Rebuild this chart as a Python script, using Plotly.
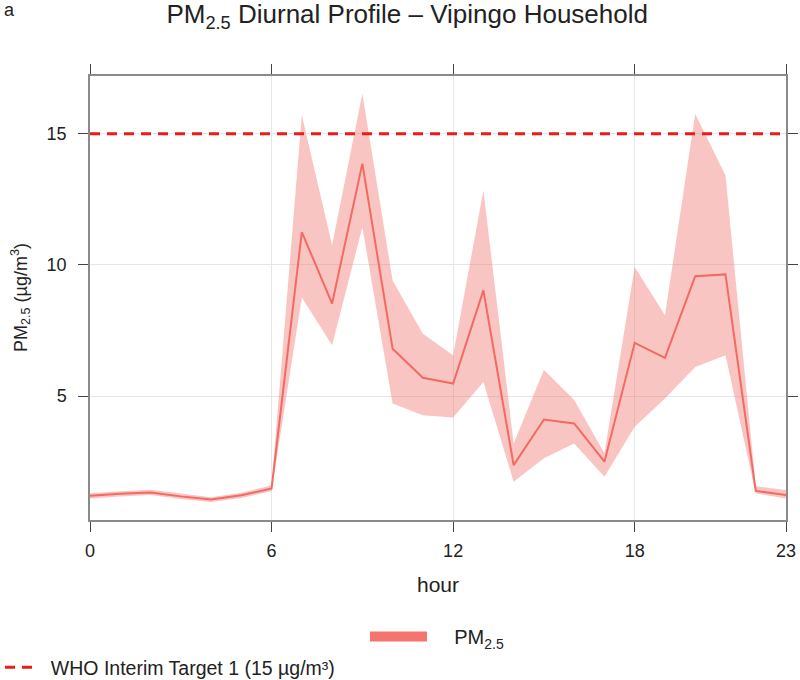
import plotly.graph_objects as go

# ---- data ----
hours = list(range(24))
pm25_mean = [1.20, 1.28, 1.33, 1.18, 1.06, 1.22, 1.48, 11.25, 8.53, 13.86, 6.81, 5.70,
             5.48, 9.03, 2.37, 4.11, 3.96, 2.50, 7.03, 6.46, 9.57, 9.64, 1.39, 1.23]
pm25_upper = [1.30, 1.38, 1.43, 1.28, 1.15, 1.32, 1.60, 15.70, 10.75, 16.52, 9.41, 7.38,
              6.56, 12.84, 3.20, 6.01, 4.85, 2.82, 9.92, 8.08, 15.76, 13.41, 1.57, 1.42]
pm25_lower = [1.10, 1.18, 1.23, 1.08, 0.97, 1.12, 1.38, 8.76, 6.94, 11.44, 4.72, 4.27,
              4.19, 5.54, 1.74, 2.63, 3.20, 1.93, 3.83, 4.91, 6.11, 6.56, 1.29, 1.10]
who_target = 15
x_ticks = [0, 6, 12, 18, 23]
y_ticks = [5, 10, 15]

LINE_COL = "#F26A62"
BAND_COL = "rgba(240, 110, 105, 0.40)"
PATCH_COL = "#F4756E"
WHO_COL = "#EE1A1A"
FONT = "Liberation Sans, Arial, sans-serif"
NB = "\u00a0"

fig = go.Figure()

fig.add_trace(go.Scatter(x=hours, y=pm25_lower, mode="lines", line=dict(width=0, color=BAND_COL),
                         showlegend=False, hoverinfo="skip"))
fig.add_trace(go.Scatter(x=hours, y=pm25_upper, mode="lines", line=dict(width=0, color=BAND_COL),
                         fill="tonexty", fillcolor=BAND_COL, showlegend=False, hoverinfo="skip"))
fig.add_trace(go.Scatter(x=hours, y=pm25_mean, mode="lines", line=dict(width=2, color=LINE_COL),
                         showlegend=False, name="PM2.5"))
fig.add_trace(go.Scatter(x=hours, y=[who_target] * len(hours), mode="lines",
                         line=dict(width=3, color=WHO_COL, dash="10px,7px"),
                         name=NB * 2 + "WHO Interim Target 1 (15 µg/m³)", legend="legend2"))
# legend key for the PM2.5 series
fig.add_trace(go.Scatter(x=[None], y=[None], mode="lines", line=dict(width=22, color=PATCH_COL),
                         name=NB * 4 + "PM<sub>2.5</sub>", legend="legend"))

fig.update_layout(
    width=800, height=680,
    margin=dict(l=90, r=14, t=76, b=160, autoexpand=False),
    paper_bgcolor="white", plot_bgcolor="white",
    font=dict(family=FONT, color="#222222", size=18),
    title=dict(text="PM<sub>2.5</sub> Diurnal Profile – Vipingo Household",
               xref="container", yref="container", x=0.509, y=1 - 14 / 680,
               xanchor="center", yanchor="middle",
               font=dict(size=26, family=FONT, color="#222222")),
    xaxis=dict(range=[0, 23], tickvals=x_ticks, ticks="outside", ticklen=10, tickwidth=1,
               tickcolor="#444444", showline=True, linecolor="#8a8a8a", linewidth=1.5,
               mirror="allticks", showgrid=True, gridcolor="#e6e6e6", gridwidth=1,
               zeroline=False, ticklabelstandoff=4, tickfont=dict(size=18),
               title=dict(text="hour", font=dict(size=21), standoff=17)),
    yaxis=dict(range=[0.28, 17.2], tickvals=y_ticks, ticks="outside", ticklen=10, tickwidth=1,
               tickcolor="#444444", showline=True, linecolor="#8a8a8a", linewidth=1.5,
               mirror="allticks", showgrid=True, gridcolor="#e6e6e6", gridwidth=1,
               zeroline=False, ticklabelstandoff=8, tickfont=dict(size=18)),
    legend=dict(xref="container", yref="container", x=365 / 800, y=1 - 617 / 680,
                xanchor="left", yanchor="top", font=dict(size=20), itemwidth=57,
                bgcolor="rgba(0,0,0,0)"),
    legend2=dict(xref="container", yref="container", x=0, y=1 - 648 / 680,
                 xanchor="left", yanchor="top", font=dict(size=19.5), itemwidth=30,
                 bgcolor="rgba(0,0,0,0)"),
)
fig.layout.annotations = [
    dict(text="a", xref="paper", yref="paper", x=-88 / 696, y=1 + 66 / 444,
         xanchor="left", yanchor="middle", showarrow=False,
         font=dict(size=18, family=FONT, color="#222222")),
    dict(text="PM<sub>2.5</sub> (µg/m<sup>3</sup>)", xref="paper", yref="paper",
         x=-70 / 696, y=0.5, textangle=-90, xanchor="center", yanchor="middle",
         showarrow=False, font=dict(size=18, family=FONT, color="#222222")),
]

fig.write_html("out.html")
